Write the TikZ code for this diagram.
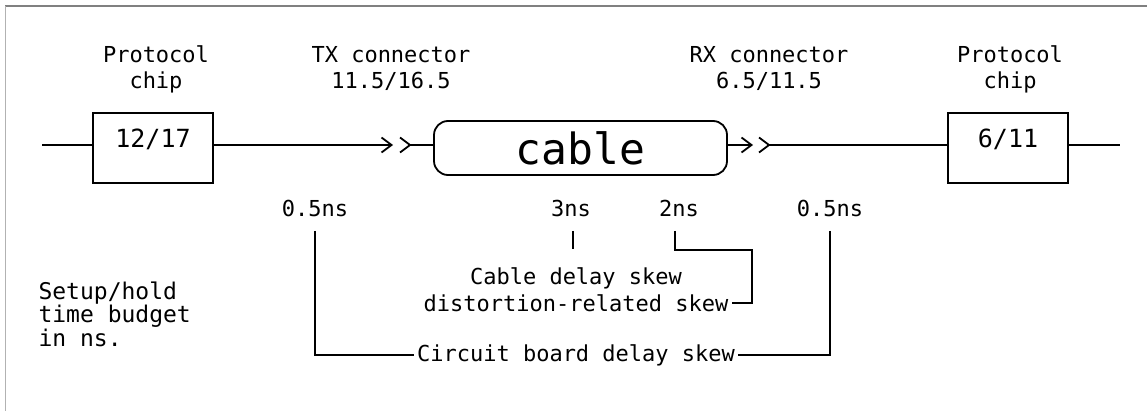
\documentclass[tikz,border=0pt]{standalone}
\usepackage{fontspec}
\newfontfamily\cadfont{DejaVu Sans Mono}
\usetikzlibrary{arrows.meta}
\tikzset{
  lbl/.style={font=\cadfont\fontsize{22}{26}\selectfont, align=center},
  wire/.style={line width=1.8pt},
  plugtip/.style={-{Straight Barb[length=10pt,width=15pt]}},
  chipbox/.style={draw, line width=1.8pt, minimum width=120pt, minimum height=70pt,
    inner sep=0pt, text height=20pt, text depth=20pt,
    font=\cadfont\fontsize{25}{25}\selectfont},
  cablebox/.style={draw, line width=1.8pt, rounded corners=14pt,
    minimum width=293pt, minimum height=54pt,
    font=\cadfont\fontsize{43}{43}\selectfont}
}
\begin{document}
\begin{tikzpicture}[x=1pt,y=-1pt]
  \useasboundingbox (0,0) rectangle (1147,411);
  % frame
  \draw[gray, line width=2pt] (5,6) -- (1147,6);
  \draw[black!30, line width=1pt] (5.5,6) -- (5.5,411);

  % chips and cable
  \node[chipbox] (chipL) at (153,148) {12/17};
  \node[chipbox] (chipR) at (1008,148) {6/11};
  \node[cablebox] (cable) at (580.5,148) {cable};

  % top labels (base = last line)
  \node[lbl, anchor=base] (protoL) at (156,89) {Protocol\\chip};
  \node[lbl, anchor=base] (txlbl) at (391,89) {TX connector\\11.5/16.5};
  \node[lbl, anchor=base] (rxlbl) at (769,89) {RX connector\\6.5/11.5};
  \node[lbl, anchor=base] (protoR) at (1010,89) {Protocol\\chip};

  % signal path
  \coordinate (inL) at (42,145);
  \coordinate (txtip) at (393,145);
  \coordinate (txplug) at (410,145);
  \coordinate (rxtip) at (753,145);
  \coordinate (rxplug) at (769,145);
  \coordinate (outR) at (1120,145);

  \draw[wire] (inL) -- (inL -| chipL.west);
  \draw[wire, plugtip] (txtip -| chipL.east) -- (txtip);
  \draw[wire] (txplug) ++(-10,-7.5) -- (txplug) -- ++(-10,7.5);
  \draw[wire] (txplug) -- (txplug -| cable.west);
  \draw[wire, plugtip] (rxtip -| cable.east) -- (rxtip);
  \draw[wire] (rxplug) ++(-10,-7.5) -- (rxplug) -- ++(-10,7.5);
  \draw[wire] (rxplug) -- (rxplug -| chipR.west);
  \draw[wire] (outR -| chipR.east) -- (outR);

  % skew budget
  \node[lbl, anchor=base] (skewA) at (315,217) {0.5ns};
  \node[lbl, anchor=base] (skewC) at (571,217) {3ns};
  \node[lbl, anchor=base] (skewD) at (679,217) {2ns};
  \node[lbl, anchor=base] (skewB) at (830,217) {0.5ns};
  \node[lbl, anchor=base] (cabledelay) at (576,285) {Cable delay skew};
  \node[lbl, anchor=base] (distortion) at (576,311) {distortion-related skew};
  \node[lbl, anchor=base] (boarddelay) at (576,361) {Circuit board delay skew};
  \node[lbl, anchor=base west, align=left, font=\cadfont\fontsize{23}{21.5}\selectfont]
    (budget) at (35,346) {Setup/hold\\time budget\\in ns.};

  \coordinate (kneeD) at (752,250);
  \draw[wire] (skewA.south) ++(0,10) |- (boarddelay.west);
  \draw[wire] (skewB.south) ++(0,10) |- (boarddelay.east);
  \draw[wire] (skewC.south) ++(2,10) -- ++(0,18);
  \draw[wire] (skewD.south) ++(-4,10) |- (kneeD) |- (distortion.east);
\end{tikzpicture}
\end{document}
